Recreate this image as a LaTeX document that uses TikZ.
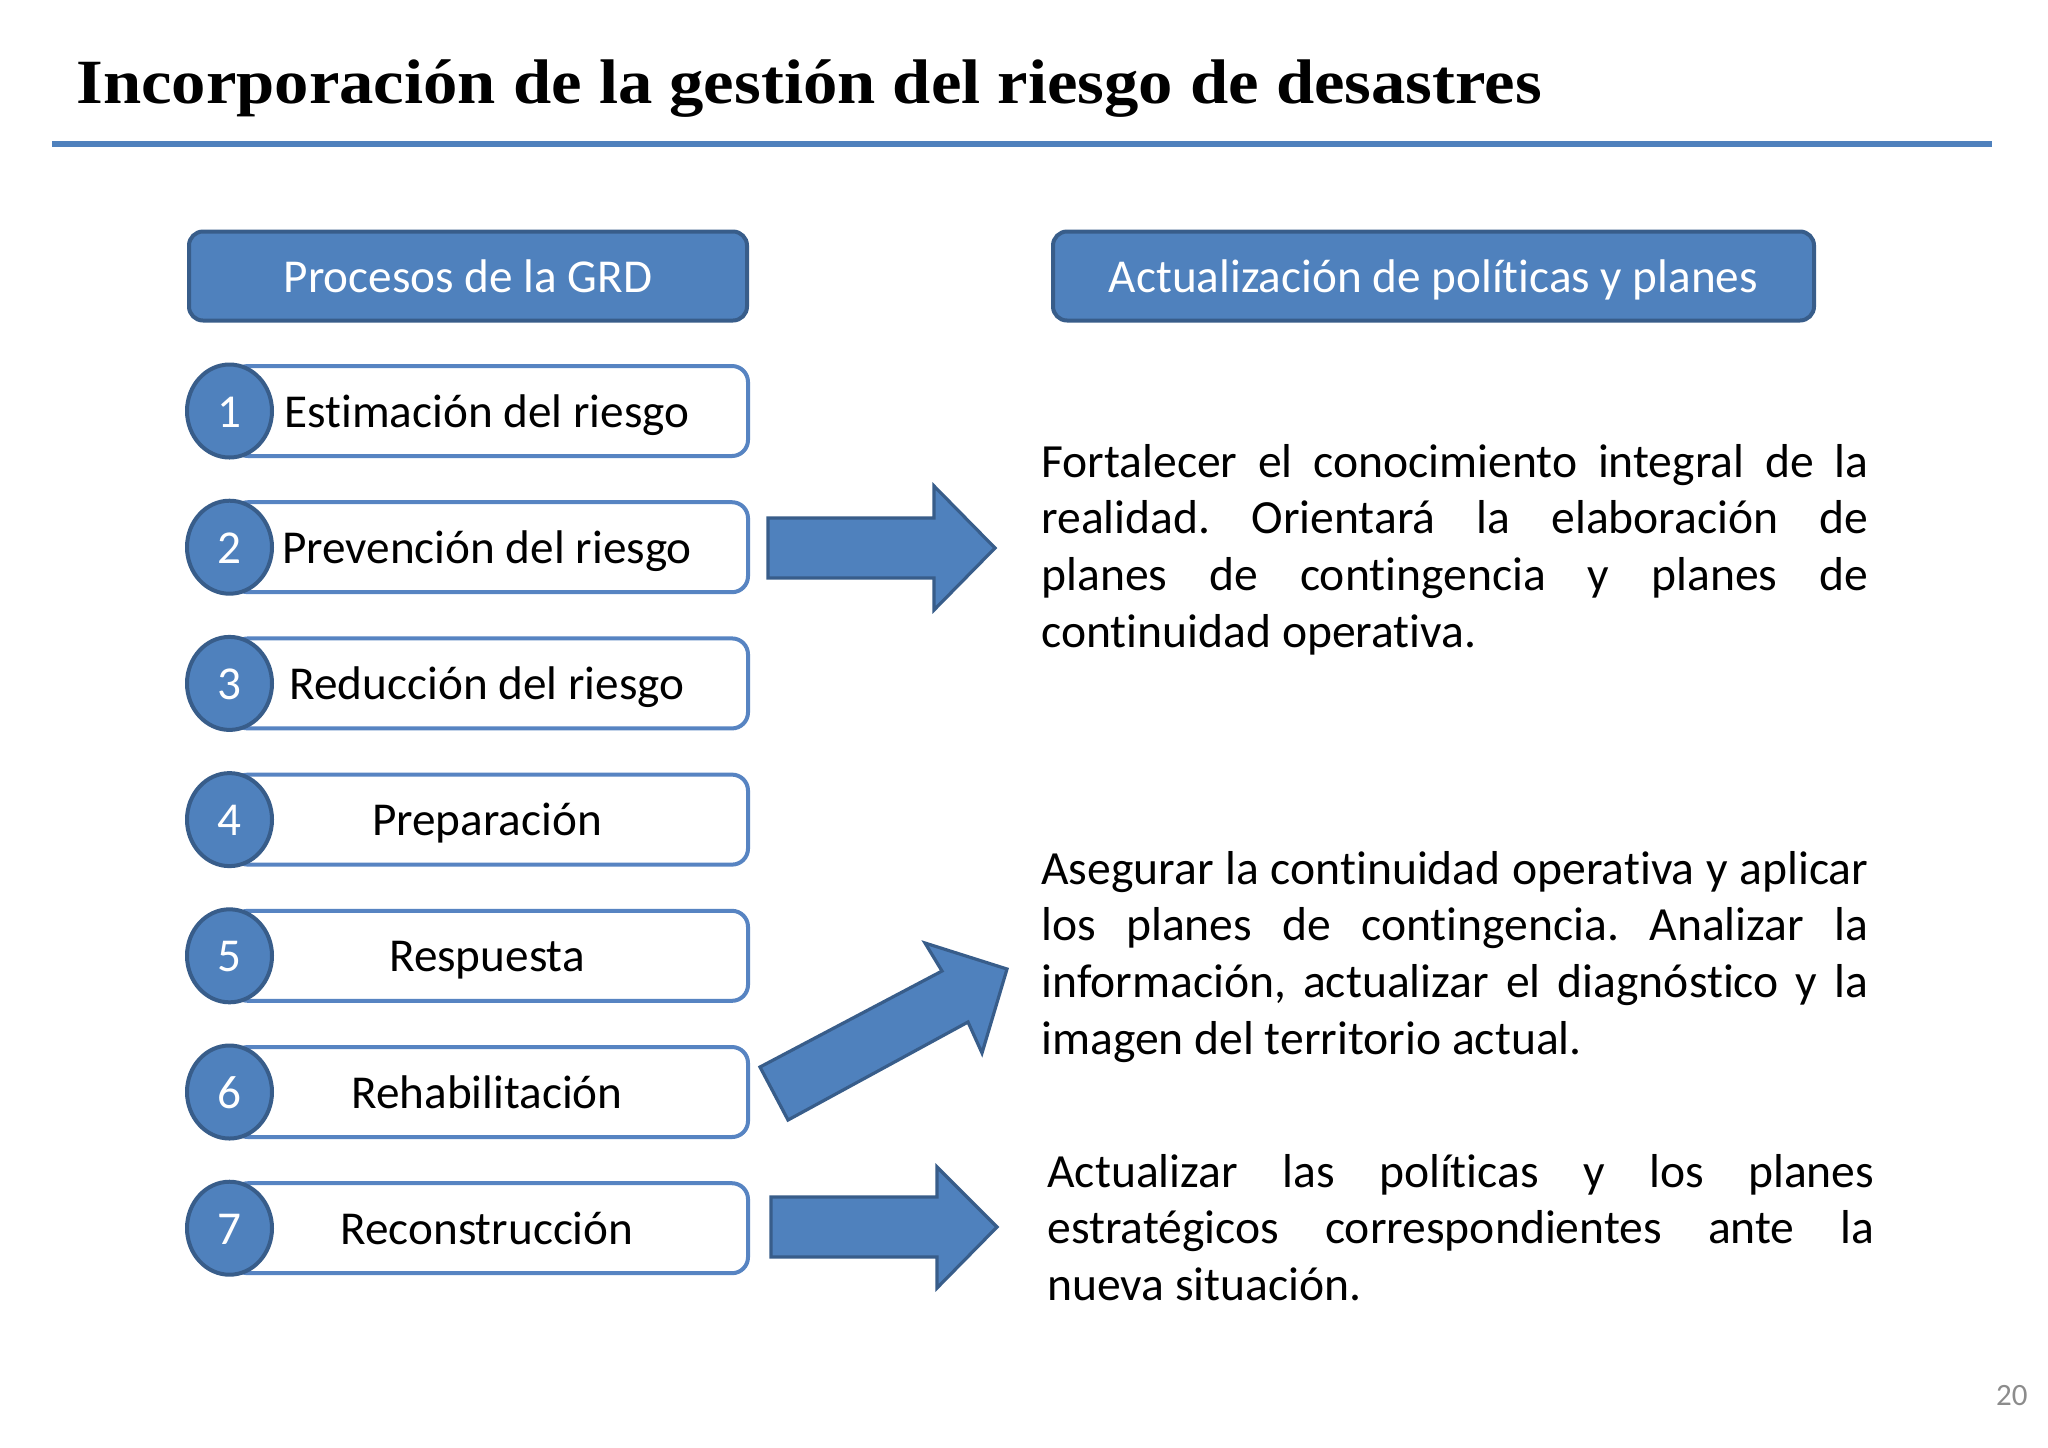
\documentclass[tikz,border=0pt]{standalone}
\usepackage{fontspec}
\usetikzlibrary{shapes.geometric}
\setmainfont{Carlito}[Ligatures=NoCommon]
\newfontfamily\titlefont{Liberation Serif}
\definecolor{accent}{HTML}{4F81BD}
\definecolor{edgeblue}{HTML}{385D8A}
\definecolor{itemedge}{HTML}{5784C2}
\definecolor{pagegray}{HTML}{8C8C8C}
\hyphenpenalty=10000
\exhyphenpenalty=10000
\tolerance=10000
\frenchspacing
\begin{document}
\begin{tikzpicture}[x=0.5pt,y=-0.5pt,
  header/.style={draw=edgeblue, line width=2pt, fill=accent, rounded corners=7pt,
    minimum height=44.5pt, text=white, font=\fontsize{23.6}{28}\selectfont,
    text height=22pt, text depth=6pt, inner sep=0pt},
  itembox/.style={draw=itemedge, line width=2pt, fill=white, rounded corners=8pt,
    minimum width=258pt, minimum height=45pt, font=\fontsize{23.6}{28}\selectfont,
    text height=22pt, text depth=6pt, inner sep=0pt},
  numcirc/.style={ellipse, draw=edgeblue, line width=2pt, fill=accent, minimum width=42.5pt,
    minimum height=46.5pt, inner sep=0pt, text=white, font=\fontsize{23.6}{28}\selectfont,
    text height=22pt, text depth=6pt},
  blockarrow/.style={draw=edgeblue, line width=1.6pt, fill=accent, line join=miter},
  body/.style={font=\fontsize{23.8}{28.4}\selectfont, text width=413.5pt, align=justify,
    inner sep=0pt, anchor=base west},
]
\useasboundingbox[fill=white] (0,0) rectangle (2048,1447);

% title
\node[anchor=base west, inner sep=0pt, font=\titlefont\bfseries\fontsize{31.5}{38}\selectfont] (title) at (76,103)
  {\scalebox{1.09}[1]{Incorporación de la gestión del riesgo de desastres}};
\coordinate (ruleL) at (52,143.5);
\coordinate (ruleR) at (1992,143.5);
\draw[accent, line width=3pt] (ruleL) -- (ruleR);

% headers
\node[header, minimum width=279pt] (hleft) at (468,276) {Procesos de la GRD};
\node[header, minimum width=380.5pt] (hright) at (1433.5,276) {Actualización de políticas y planes};

% items
\foreach \n/\t [count=\k from 0] in {1/Estimación del riesgo, 2/Prevención del riesgo, 3/Reducción del riesgo, 4/Preparación, 5/Respuesta, 6/Rehabilitación, 7/Reconstrucción}{
  \pgfmathsetmacro{\cy}{411+136.2*\k}
  \node[itembox] (item\n) at (490,\cy) {\hspace*{-3pt}\t};
  \node[numcirc] (num\n) at (229.5,\cy) {\n};
}

% arrows
\draw[blockarrow] (768,518) -- (934,518) -- (934,486) -- (995,548) -- (934,610) -- (934,578) -- (768,578) -- cycle;
\draw[blockarrow] (760,1067) -- (942,971) -- (925,943) -- (1007,969) -- (982,1053) -- (968,1022) -- (788,1120) -- cycle;
\draw[blockarrow] (771,1197) -- (937,1197) -- (937,1167) -- (997,1227) -- (937,1288) -- (937,1257) -- (771,1257) -- cycle;

% paragraphs
\node[body] (p1) at (1041,477) {Fortalecer el conocimiento integral de la\linebreak realidad. Orientará la elaboración de\linebreak planes de contingencia y planes de\linebreak continuidad operativa.};
\node[body] (p2) at (1041,884) {Asegurar la continuidad operativa y aplicar\linebreak los planes de contingencia. Analizar la\linebreak información, actualizar el diagnóstico y la\linebreak imagen del territorio actual.};
\node[body] (p3) at (1047,1187) {Actualizar las políticas y los planes\linebreak estratégicos correspondientes ante la\linebreak nueva situación.};

% page number
\node[anchor=base east, inner sep=0pt, text=pagegray, font=\fontsize{15.5}{18}\selectfont] (pnum) at (2028,1405) {20};
\end{tikzpicture}
\end{document}
